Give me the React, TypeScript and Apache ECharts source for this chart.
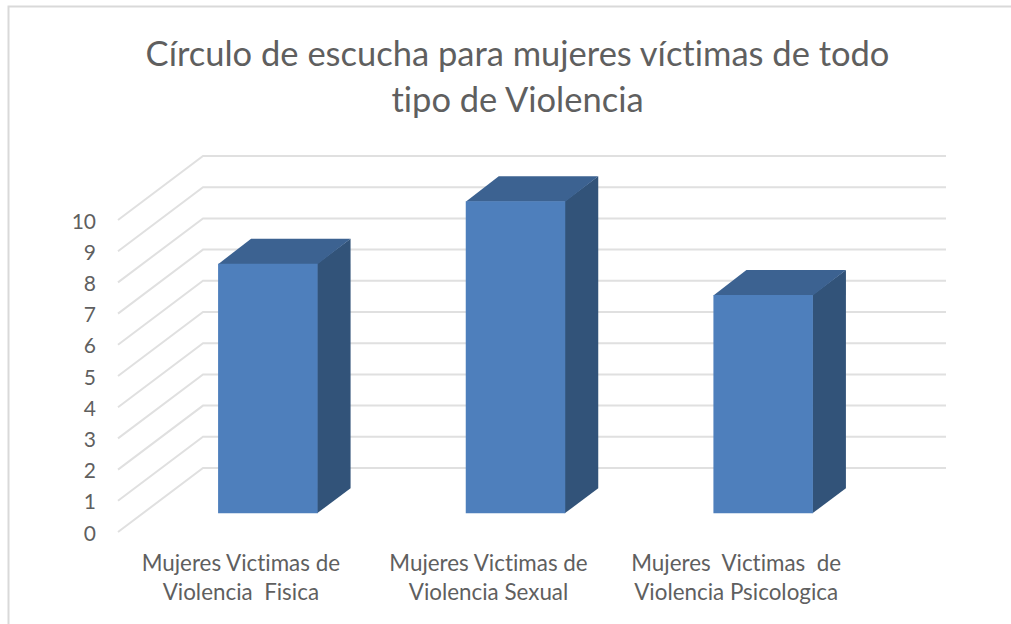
import React, { useEffect, useRef } from "react";
import * as echarts from "echarts";

const titleText = "Círculo de escucha para mujeres víctimas de todo\ntipo de Violencia";
const categories = [
  "Mujeres Victimas de\nViolencia  Fisica",
  "Mujeres Victimas de\nViolencia Sexual",
  "Mujeres  Victimas  de\nViolencia Psicologica",
];
const values = [8, 10, 7];
const ticks = [0, 1, 2, 3, 4, 5, 6, 7, 8, 9, 10];

const FONT = "Lato";
const TEXT = "#5f5f5f";
const WALL_DX = 85;
const WALL_DY = -64;

export default function App() {
  const ref = useRef<HTMLDivElement>(null);
  useEffect(() => {
    const chart = echarts.init(ref.current!, null, { renderer: "svg" });
    chart.setOption({
      animation: false,
      backgroundColor: "#ffffff",
      title: {
        text: titleText,
        left: 512.5,
        top: 24,
        textAlign: "center",
        textStyle: { fontFamily: FONT, fontSize: 34.5, fontWeight: "normal", color: TEXT, lineHeight: 46 },
      },
      grid: { left: 118, right: 150, top: 220, bottom: 92 },
      xAxis: {
        type: "category",
        data: categories,
        axisLine: { show: false },
        axisTick: { show: false },
        axisLabel: { fontFamily: FONT, fontSize: 22.4, color: TEXT, lineHeight: 29, margin: 16, interval: 0, padding: [0, 2, 0, 0] },
      },
      yAxis: {
        type: "value",
        min: 0,
        max: 10,
        interval: 1,
        splitLine: { show: false },
        axisLine: { show: false },
        axisTick: { show: false },
        axisLabel: { fontFamily: FONT, fontSize: 21, color: TEXT, margin: 22, padding: [2, 0, 0, 0] },
      },
      series: [
        {
          type: "custom",
          data: ticks.map((t) => [0, t]),
          z: 1,
          silent: true,
          renderItem: (params: any, api: any) => {
            const v = api.value(1);
            const p = api.coord([0, v]);
            const sys = params.coordSys;
            return {
              type: "polyline",
              shape: {
                points: [
                  [sys.x, p[1]],
                  [sys.x + WALL_DX, p[1] + WALL_DY],
                  [sys.x + WALL_DX + sys.width, p[1] + WALL_DY],
                ],
              },
              style: { stroke: "#e0e0e0", lineWidth: 2, fill: "none" },
            };
          },
        },
        {
          type: "custom",
          data: values.map((v, i) => [i, v]),
          z: 2,
          silent: true,
          renderItem: (_params: any, api: any) => {
            const top = api.coord([api.value(0), api.value(1)]);
            const base = api.coord([api.value(0), 0]);
            const W = 99.5;
            const fx = 0.3 * WALL_DX + 0.5;
            const fy = 0.3 * WALL_DY + 0.5;
            const dx = 33;
            const dy = -25;
            const x0 = top[0] + fx - W / 2;
            const x1 = x0 + W;
            const yT = top[1] + fy;
            const yB = base[1] + fy;
            return {
              type: "group",
              children: [
                {
                  type: "polygon",
                  shape: { points: [[x1 - 0.5, yT], [x1 + dx, yT + dy], [x1 + dx, yB + dy], [x1 - 0.5, yB]] },
                  style: { fill: "#325379" },
                },
                {
                  type: "polygon",
                  shape: { points: [[x0, yT + 0.5], [x0 + dx, yT + dy], [x1 + dx, yT + dy], [x1, yT + 0.5]] },
                  style: { fill: "#3c6291" },
                },
                {
                  type: "rect",
                  shape: { x: x0, y: yT, width: W, height: yB - yT },
                  style: { fill: "#4e7fbc" },
                },
              ],
            };
          },
        },
      ],
      graphic: [
        {
          type: "polyline",
          silent: true,
          shape: { points: [[8.5, 624], [8.5, 6.5], [1011, 6.5]] },
          style: { stroke: "#d9d9d9", lineWidth: 2, fill: "none" },
        },
      ],
    });
    return () => chart.dispose();
  }, []);
  return (
    <div
      ref={ref}
      style={{ position: "fixed", left: 0, top: 0, width: 1011, height: 624, fontVariantLigatures: "none" }}
    />
  );
}
